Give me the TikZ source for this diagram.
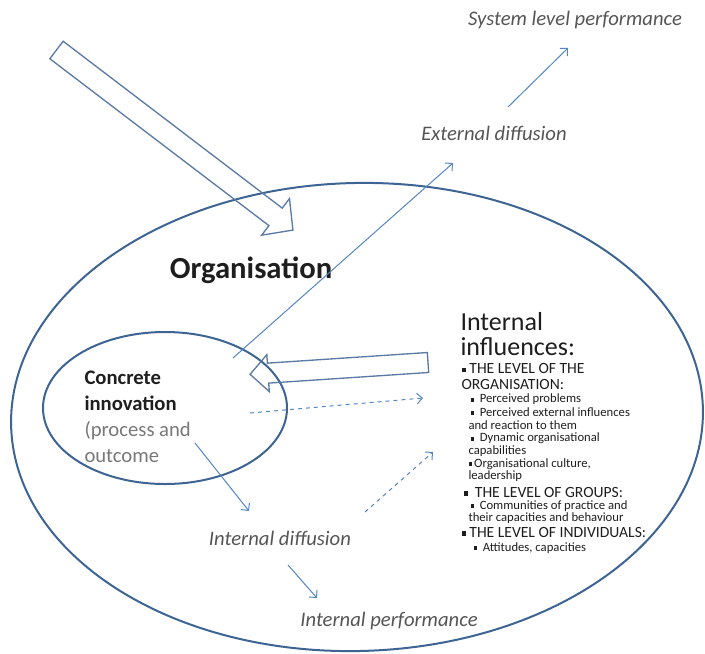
\documentclass[tikz,border=0pt]{standalone}
\usepackage{fontspec}
\setmainfont{Carlito}
\usetikzlibrary{arrows.meta}

\definecolor{ringblue}{RGB}{62,100,148}
\definecolor{flowblue}{RGB}{84,134,196}
\definecolor{labelgray}{RGB}{85,85,85}
\definecolor{softgray}{RGB}{120,120,120}
\definecolor{inkdark}{RGB}{30,30,30}

\newcommand{\sqbul}{\raisebox{0.22ex}{\rule{0.28em}{0.28em}}}

\tikzset{every picture/.style={line width=0.75pt}}
\tikzset{
  ring/.style={draw=ringblue, line width=1.5pt},
  hollow/.style={draw=ringblue!85, line width=1pt, line join=miter},
  flow/.style={draw=flowblue, -{Straight Barb[length=4pt,width=8pt]}},
  dflow/.style={flow, dashed},
  italabel/.style={inner sep=0.75pt, text=labelgray, font=\fontsize{15.5}{18}\selectfont\itshape},
  lvlfont/.style={anchor=west, inner sep=0pt, text=inkdark, font=\fontsize{11.7}{11.4}\selectfont},
  lvltext/.style={lvlfont, text height=0.66em, text depth=0pt},
  itemtext/.style={anchor=west, inner sep=0pt, text height=0.7em, text depth=0.2em, text=inkdark, font=\fontsize{9.5}{11}\selectfont},
}

\begin{document}
\begin{tikzpicture}[x=0.75pt,y=0.75pt,yscale=-1,xscale=1]
    \useasboundingbox (0,0) rectangle (705,653);

    %Shape: Ellipse (organisation)
    \draw [ring, rotate around={-1.5:(357,417)}] (357,417) ellipse [x radius=346, y radius=234];
    %Shape: Ellipse (innovation)
    \draw [ring] (165,408) ellipse [x radius=122, y radius=76];

    %Shape: Hollow Arrow (from outside)
    \draw [hollow, shift={(56.5,50)}, rotate=37.3] (0,-11) -- (275.4,-11) -- (275.4,-23) -- (297.2,0) -- (275.4,23) -- (275.4,11) -- (0,11) -- cycle;
    %Shape: Hollow Arrow (internal influences)
    \draw [hollow, shift={(428,362.5)}, rotate=176.2] (0,-10) -- (160.3,-10) -- (160.3,-18.5) -- (178.3,0) -- (160.3,18.5) -- (160.3,10) -- (0,10) -- cycle;

    % Text Node
    \node [italabel] (syslvl) at (575,20) {System level performance};
    % Text Node
    \node [italabel] (extdif) at (494,133) {External diffusion};
    % Text Node
    \node [italabel] (intdif) at (280,538) {Internal diffusion};
    % Text Node
    \node [italabel] (intperf) at (389,621) {Internal performance};
    % Text Node
    \node [inner sep=0.75pt, text=inkdark, font=\fontsize{23}{27}\selectfont\bfseries] (orgn) at (251,270) {Organisation};
    % Text Node
    \node [anchor=west, align=left, inner sep=0.75pt, text=inkdark, font=\fontsize{15.5}{19.5}\selectfont] (concr) at (83,416.5) {\textbf{Concrete}\\\textbf{innovation}\\\textcolor{softgray}{(process and}\\\textcolor{softgray}{outcome}};
    % Text Node
    \node [anchor=west, align=left, inner sep=0.75pt, text=inkdark, font=\fontsize{19.5}{18.75}\selectfont] (inflhead) at (459,334.5) {Internal\\influences:};

    % Text Node (list)
    \node [lvlfont, align=left] (lvorg) at (461,376.5) {\sqbul\ THE LEVEL OF THE\\ORGANISATION:};
    \node [itemtext] (itprob) at (470,399.5) {\sqbul\ \ Perceived problems};
    \node [itemtext] (itext) at (470,413) {\sqbul\ \ Perceived external influences};
    \node [itemtext] (itextb) at (468,426) {and reaction to them};
    \node [itemtext] (itdyn) at (470,438.5) {\sqbul\ \ Dynamic organisational};
    \node [itemtext] (itdynb) at (468,451.5) {capabilities};
    \node [itemtext] (itcult) at (468,464) {\sqbul\,Organisational culture,};
    \node [itemtext] (itcultb) at (468,476.5) {leadership};
    \node [lvltext] (lvgrp) at (463,493) {\sqbul\ \ THE LEVEL OF GROUPS:};
    \node [itemtext] (itcomm) at (470,506) {\sqbul\ \ Communities of practice and};
    \node [itemtext] (itcommb) at (468,518.5) {their capacities and behaviour};
    \node [lvltext] (lvind) at (461,533) {\sqbul\ THE LEVEL OF INDIVIDUALS:};
    \node [itemtext] (itatt) at (473,548) {\sqbul\ \ Attitudes, capacities};

    %Straight Lines
    \coordinate (exts) at (233,358);
    \coordinate (exte) at (453,163);
    \coordinate (syss) at (508,107);
    \coordinate (syse) at (568,48);
    \coordinate (difs) at (195,443);
    \coordinate (dife) at (249,511);
    \coordinate (perfs) at (288,565);
    \coordinate (perfe) at (317,598);
    \coordinate (infs) at (250,413);
    \coordinate (infe) at (423,398);
    \coordinate (fbs) at (365,512);
    \coordinate (fbe) at (433,452);
    \draw [flow] (exts) -- (exte);
    \draw [flow] (syss) -- (syse);
    \draw [flow] (difs) -- (dife);
    \draw [flow] (perfs) -- (perfe);
    %Dashed Lines
    \draw [dflow] (infs) -- (infe);
    \draw [dflow] (fbs) -- (fbe);
\end{tikzpicture}
\end{document}
